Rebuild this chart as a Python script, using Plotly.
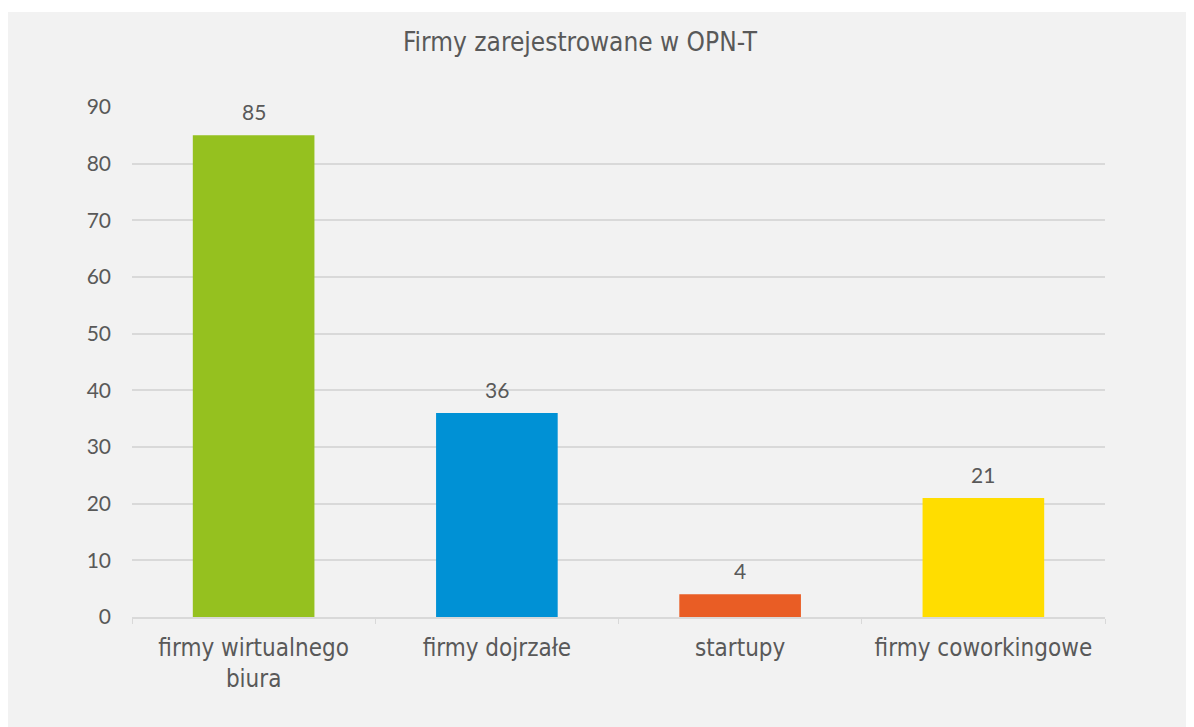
import plotly.graph_objects as go

categories = ["firmy wirtualnego<br>biura", "firmy dojrzałe", "startupy", "firmy coworkingowe"]
values = [85, 36, 4, 21]
colors = ["#95c11f", "#0091d5", "#e95d25", "#ffdd00"]
title_text = "Firmy zarejestrowane w OPN-T"
y_ticks = [0, 10, 20, 30, 40, 50, 60, 70, 80, 90]

# figure is placed at (8, 8) in the page by the default body margin
W, H = 1194, 719
L, R, T, B = 124, 97, 99, 110
pw, ph = W - L - R, H - T - B

def px_x(p):
    return (p - L) / pw

def px_y(p):
    return (H - B - p) / ph

txt = "#595959"
grid = "#d9d9d9"
label_font = "DejaVu Sans Condensed"
num_font = "Lato"

fig = go.Figure()
fig.add_trace(go.Bar(
    x=categories, y=values,
    marker=dict(color=colors, line=dict(width=0)),
    hoverinfo="x+y",
))

for c, v in zip(categories, values):
    fig.add_annotation(x=c, y=v, text=str(v), showarrow=False,
                       yanchor="middle", yshift=24,
                       font=dict(family=num_font, size=21, color=txt))

# thin white strip at top (gray panel starts slightly below the page margin)
fig.add_shape(type="rect", xref="paper", yref="paper",
              x0=px_x(-10), x1=px_x(W + 10), y0=px_y(4), y1=px_y(-10),
              fillcolor="white", line=dict(width=0), layer="below")

fig.update_layout(
    width=W, height=H,
    margin=dict(l=L, r=R, t=T, b=B),
    paper_bgcolor="#f2f2f2", plot_bgcolor="rgba(0,0,0,0)",
    bargap=0.5, showlegend=False,
    title=dict(text=title_text, x=572 / W, xref="container", xanchor="center",
               y=1 - 34 / H, yref="container", yanchor="middle",
               font=dict(family=label_font, size=26, color=txt)),
    xaxis=dict(showline=True, linecolor=grid, linewidth=1.5,
               ticks="outside", tickson="boundaries", ticklen=5, tickcolor=grid,
               ticklabelstandoff=8,
               tickfont=dict(family=label_font, size=24, color=txt),
               showgrid=False),
    yaxis=dict(range=[0, 90], tickvals=y_ticks, showgrid=True, gridcolor=grid, gridwidth=1.5,
               zeroline=False, showline=False, ticks="", ticklabelstandoff=20,
               tickfont=dict(family=num_font, size=21, color=txt)),
)

fig.write_html("out.html")
